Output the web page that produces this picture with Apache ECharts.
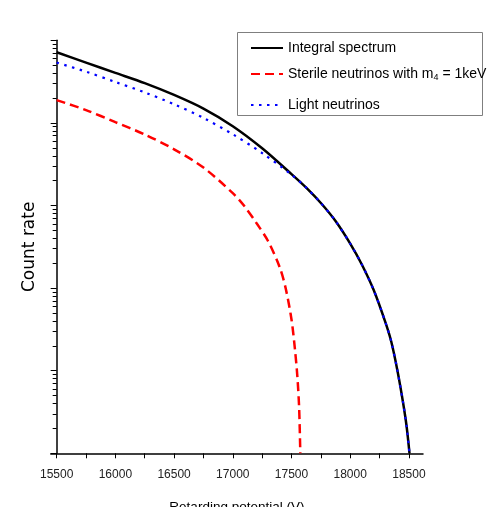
<!DOCTYPE html>
<html>
<head>
<meta charset="utf-8">
<script src="https://cdn.jsdelivr.net/npm/echarts@6/dist/echarts.min.js"></script>
<style>
  html, body { margin: 0; padding: 0; background: #fff; }
  #chart { width: 487px; height: 507px; }
</style>
</head>
<body>
<div id="chart"></div>
<script>
// Retarding potential (V) and count rate for each curve
const integralX = [15500, 15750, 16000, 16250, 16500, 16750, 17000, 17250, 17500, 17625, 17750, 17875, 18000, 18100, 18200, 18300, 18350, 18400, 18450, 18480, 18505];
const integralY = [71600, 53700, 40300, 30300, 21800, 14900, 9120, 4930, 2400, 1645, 1072, 649, 346, 192, 94.8, 38.5, 22.4, 10.4, 4.13, 2.14, 1];

const sterileX = [15500, 15750, 16000, 16250, 16500, 16750, 17000, 17100, 17200, 17300, 17400, 17450, 17500, 17530, 17550, 17565, 17575];
const sterileY = [18900, 14300, 10200, 7240, 4790, 2880, 1410, 977, 617, 372, 178, 100, 41.7, 17.8, 8.5, 3.55, 1];

const lightX = [15500, 15750, 16000, 16250, 16500, 16750, 17000, 17250, 17500, 17625, 17750, 17875, 18000, 18100, 18200, 18300, 18350, 18400, 18450, 18480, 18505];
const lightY = [53700, 41700, 31300, 23400, 16800, 11500, 7280, 4315, 2360, 1645, 1072, 649, 346, 192, 94.8, 38.5, 22.4, 10.4, 4.13, 2.14, 1];

const xLabelValues = [15500, 16000, 16500, 17000, 17500, 18000, 18500];
const xTickValues = [15500, 15750, 16000, 16250, 16500, 16750, 17000, 17250, 17500, 17750, 18000, 18250, 18500];
const yMajorTicks = [1, 10, 100, 1000, 10000, 100000];

const seriesNames = ['Integral spectrum', 'Sterile neutrinos with m4 = 1keV', 'Light neutrinos'];

// minor log ticks 2..9 within each decade
const yMinorTicks = [];
for (let d = 0; d < yMajorTicks.length - 1; d++) {
  for (let k = 2; k <= 9; k++) yMinorTicks.push(k * yMajorTicks[d]);
}

const pairs = (xs, ys) => xs.map((x, i) => [x, ys[i]]);

const SANS = "'Liberation Sans', Arial, sans-serif";

const X_MIN = 15450, X_MAX = 18620;
const GRID_LEFT = 50.8, GRID_RIGHT = 64;
const plotW = 487 - GRID_LEFT - GRID_RIGHT;
// shift the y axis so it sits on x = 15500
const yAxisShift = -(15500 - X_MIN) * plotW / (X_MAX - X_MIN);

const chart = echarts.init(document.getElementById('chart'), null, { renderer: 'canvas' });

const legendBase = {
  orient: 'vertical',
  left: 250,
  padding: 0,
  itemWidth: 32,
  itemHeight: 14,
  itemGap: 4,
  itemStyle: { opacity: 0 },
  textStyle: {
    fontFamily: SANS,
    fontSize: 14,
    color: '#000',
    rich: {
      sub: { fontFamily: SANS, fontSize: 9, color: '#000', verticalAlign: 'bottom', padding: [7, 0, 0, 0] }
    }
  },
  formatter: function (name) {
    if (name === seriesNames[1]) return 'Sterile neutrinos with m{sub|4} = 1keV';
    return name;
  }
};

chart.setOption({
  animation: false,
  backgroundColor: '#fff',
  grid: { left: GRID_LEFT, right: GRID_RIGHT, top: 40.3, bottom: 53.7, containLabel: false, outerBoundsMode: 'none' },
  legend: [
    Object.assign({}, legendBase, { top: 41, data: [seriesNames[0]] }),
    Object.assign({}, legendBase, { top: 67, data: [seriesNames[1]] }),
    Object.assign({}, legendBase, { top: 98, data: [seriesNames[2]] })
  ],
  graphic: [{
    type: 'rect',
    z: -1,
    shape: { x: 237.5, y: 32.5, width: 245, height: 83 },
    style: { fill: '#fff', stroke: '#7f7f7f', lineWidth: 1 }
  }],
  xAxis: {
    type: 'value',
    min: X_MIN,
    max: X_MAX,
    name: 'Retarding potential (V)',
    nameLocation: 'middle',
    nameGap: 47,
    nameTextStyle: { fontFamily: SANS, fontSize: 13.5, color: '#000' },
    axisLine: { show: true, lineStyle: { color: '#000', width: 1.5 } },
    axisTick: { show: true, length: 5, customValues: xTickValues, lineStyle: { color: '#000', width: 1 } },
    axisLabel: {
      customValues: xLabelValues, margin: 15, fontFamily: SANS, fontSize: 12, color: '#222',
      formatter: v => String(v)
    },
    splitLine: { show: false }
  },
  yAxis: [{
    type: 'log',
    logBase: 10,
    min: 1,
    max: 100000,
    position: 'left',
    offset: yAxisShift,
    name: 'Count rate',
    nameLocation: 'middle',
    nameGap: 19,
    nameTextStyle: { fontFamily: "'DejaVu Sans', sans-serif", fontSize: 17, color: '#000' },
    axisLine: { show: true, lineStyle: { color: '#000', width: 1.5 } },
    axisTick: { show: true, length: 6, customValues: yMajorTicks, lineStyle: { color: '#000', width: 1 } },
    axisLabel: { show: false },
    splitLine: { show: false },
    minorTick: { show: false }
  }, {
    type: 'log',
    logBase: 10,
    min: 1,
    max: 100000,
    position: 'left',
    offset: yAxisShift,
    axisLine: { show: false },
    axisTick: { show: true, length: 4, customValues: yMinorTicks, lineStyle: { color: '#000', width: 1 } },
    axisLabel: { show: false },
    splitLine: { show: false }
  }],
  series: [{
    name: seriesNames[0],
    type: 'line',
    data: pairs(integralX, integralY),
    showSymbol: false,
    symbol: 'none',
    smooth: 0.3,
    lineStyle: { color: '#000', width: 2.5 },
    itemStyle: { color: '#000' },
    z: 2
  }, {
    name: seriesNames[1],
    type: 'line',
    data: pairs(sterileX, sterileY),
    showSymbol: false,
    symbol: 'none',
    smooth: 0.3,
    lineStyle: { color: '#ff0000', width: 2.5, type: [9, 5] },
    itemStyle: { color: '#ff0000' },
    z: 3
  }, {
    name: seriesNames[2],
    type: 'line',
    data: pairs(lightX, lightY),
    showSymbol: false,
    symbol: 'none',
    smooth: 0.3,
    lineStyle: { color: '#0000ff', width: 2.2, type: [2.5, 5.5] },
    itemStyle: { color: '#0000ff' },
    z: 4
  }]
});
</script>
</body>
</html>
